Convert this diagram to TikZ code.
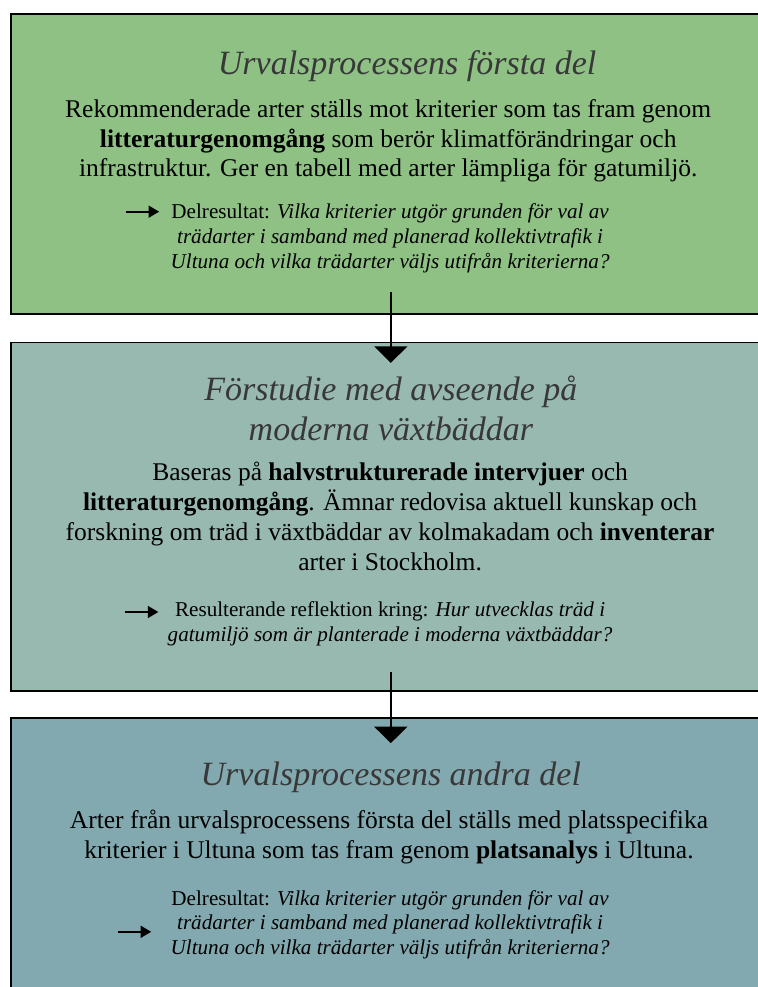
\documentclass[tikz,border=0pt]{standalone}
\usepackage{fontspec}
\setmainfont{Liberation Serif}
\usepackage{tikz}
\usetikzlibrary{arrows.meta}
\usetikzlibrary{calc}
\definecolor{stageA}{RGB}{143,193,133}
\definecolor{stageB}{RGB}{152,185,176}
\definecolor{stageC}{RGB}{131,169,176}
\definecolor{titlegray}{RGB}{56,56,56}
\tikzset{
  stagebox/.style={draw=black,line width=1.3pt,anchor=north west,minimum width=20.1cm,inner sep=0pt},
  stagetitle/.style={anchor=base,align=center,text=titlegray,font=\fontsize{25.6pt}{30pt}\selectfont\itshape},
  stagetext/.style={anchor=base,align=center,font=\fontsize{19.2pt}{22.5pt}\selectfont},
  restext/.style={anchor=base,align=center,font=\fontsize{15.9pt}{18.75pt}\selectfont},
  flow/.style={line width=1.1pt,-{Triangle[length=12.5pt,width=25pt]}},
  resarr/.style={line width=1.5pt,-{Triangle[length=8pt,width=9pt]}}
}
\newcommand{\resarrow}[3]{\coordinate (#1a) at (#2,#3); \coordinate (#1b) at ($(#1a)+(0.88,0)$); \draw[resarr] (#1a) -- (#1b);}
\begin{document}
\begin{tikzpicture}
        \useasboundingbox (0,0) rectangle (20.03,26.11);
        %boxes
        \node[stagebox,fill=stageA,minimum height=7.94cm] (box1) at (0.265,25.77) {};
        \node[stagebox,fill=stageB,minimum height=9.21cm] (box2) at (0.265,17.07) {};
        \node[stagebox,fill=stageC,minimum height=7.44cm] (box3) at (0.265,7.14) {};
        
        %connectors
        \draw[flow] ([yshift=0.61cm]box1.south) -- ([yshift=-0.56cm]box2.north);
        \draw[flow] ([yshift=0.53cm]box2.south) -- ([yshift=-0.69cm]box3.north);
        
        %first stage (base = last line)
        \node[stagetitle] (t1) at (10.77,24.13) {Urvalsprocessens första del};
        \node[stagetext] (b1) at (10.27,21.43) {Rekommenderade arter ställs mot kriterier som tas fram genom\\
          \textbf{litteraturgenomgång} som berör klimatförändringar och\\
          infrastruktur. Ger en tabell med arter lämpliga för gatumiljö.};
        \node[restext] (r1) at (10.32,19.02) {Delresultat: \textit{Vilka kriterier utgör grunden för val av}\\
          \textit{trädarter i samband med planerad kollektivtrafik i}\\
          \textit{Ultuna och vilka trädarter väljs utifrån kriterierna?}};
        \resarrow{p1}{3.33}{20.51}
        
        %second stage
        \node[stagetitle] (t2) at (10.34,14.47) {Förstudie med avseende på\\ moderna växtbäddar};
        \node[stagetext] (b2) at (10.32,11.03) {Baseras på \textbf{halvstrukturerade intervjuer} och\\
          \textbf{litteraturgenomgång}. Ämnar redovisa aktuell kunskap och\\
          forskning om träd i växtbäddar av kolmakadam och \textbf{inventerar}\\
          arter i Stockholm.};
        \node[restext] (r2) at (10.32,9.13) {Resulterande reflektion kring: \textit{Hur utvecklas träd i}\\
          \textit{gatumiljö som är planterade i moderna växtbäddar?}};
        \resarrow{p2}{3.31}{9.92}
        
        %third stage
        \node[stagetitle] (t3) at (10.34,5.34) {Urvalsprocessens andra del};
        \node[stagetext] (b3) at (10.29,3.41) {Arter från urvalsprocessens första del ställs med platsspecifika\\
          kriterier i Ultuna som tas fram genom \textbf{platsanalys} i Ultuna.};
        \node[restext] (r3) at (10.32,0.85) {Delresultat: \textit{Vilka kriterier utgör grunden för val av}\\
          \textit{trädarter i samband med planerad kollektivtrafik i}\\
          \textit{Ultuna och vilka trädarter väljs utifrån kriterierna?}};
        \resarrow{p3}{3.12}{1.46}
        
\end{tikzpicture}
\end{document}
